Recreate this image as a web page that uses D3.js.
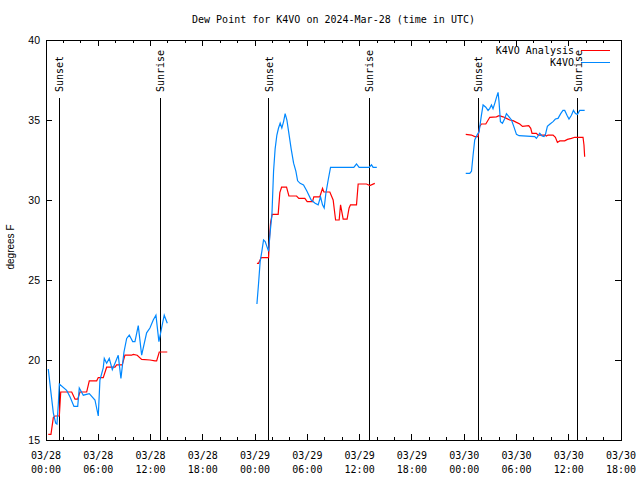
<!DOCTYPE html>
<html><head><meta charset="utf-8">
<script src="https://cdn.jsdelivr.net/npm/d3@7"></script>
<style>html,body{margin:0;padding:0;background:#fff;}svg{display:block;}</style>
</head><body>
<svg id="c" width="640" height="480"></svg>
<script>
// hours since 2024-03-28 00:00 UTC; null marks a gap
const obsHours = [0.26,0.54,0.84,1.11,1.26,1.41,1.53,2.37,2.75,3.21,3.64,3.82,4.28,4.97,5.62,6.0,6.19,6.57,6.69,6.96,7.26,7.61,7.92,8.29,8.60,8.95,9.26,9.56,9.95,10.21,10.59,10.98,11.55,11.93,12.31,12.62,12.96,13.27,13.57,13.92,
 null,
 24.21,24.40,24.58,24.78,24.97,25.16,25.35,25.55,25.73,25.93,26.12,26.30,26.50,26.69,26.88,27.07,27.27,27.45,27.65,27.84,28.14,28.42,28.68,28.88,29.17,29.56,29.94,30.44,30.89,31.24,31.51,31.74,31.93,32.12,32.39,32.66,35.33,35.64,35.94,37.09,37.36,37.55,37.97,
 null,
 48.18,48.64,48.84,49.02,49.21,49.48,49.71,49.98,50.17,50.48,50.74,50.94,51.13,51.31,51.51,51.70,51.89,52.0,52.16,52.39,52.66,52.85,53.15,53.43,53.69,54.0,54.30,56.10,56.29,56.48,56.67,56.94,57.16,57.33,57.55,57.82,58.20,58.47,58.77,59.08,59.34,59.54,59.80,60.03,60.31,60.54,60.77,61.0,61.26,61.83];
const obsValues = [19.44,18.1,16.7,16.06,16.0,17.2,18.5,18.1,17.7,17.1,17.1,18.25,17.8,17.9,17.5,16.5,18.75,19.5,20.1,19.8,20.1,19.4,19.8,20.3,18.85,20.5,21.35,21.56,21.15,21.15,22.15,20.3,21.7,22.0,22.5,22.8,21.15,22.0,22.8,22.3,
 null,
 23.5,24.8,26.15,26.8,27.5,27.4,27.1,26.8,28.0,29.05,31.8,33.2,34.06,34.5,34.8,34.5,34.9,35.4,35.0,34.3,33.2,32.3,31.8,31.2,31.04,30.94,30.56,30.0,29.8,29.7,30.2,29.7,29.5,30.4,31.25,32.04,32.04,32.25,32.04,32.04,32.2,32.04,32.04,
 null,
 31.67,31.67,31.8,32.8,33.75,34.06,34.27,35.3,35.94,35.8,35.6,35.73,35.94,35.7,36.04,36.4,36.73,36.15,34.9,34.8,35.1,35.4,35.2,35.0,34.6,34.1,34.02,33.96,33.85,34.0,34.17,34.0,33.96,34.1,34.6,34.73,34.9,35.06,35.1,35.4,35.6,35.6,35.3,35.06,35.3,35.6,35.4,35.35,35.6,35.6];

const anaHours = [0.26,0.57,0.84,1.03,1.53,1.69,2.95,3.33,3.64,3.90,4.67,4.97,5.82,6.0,6.57,6.96,7.92,8.11,8.75,9.06,9.83,10.01,10.47,10.98,11.93,12.50,12.70,13.0,13.92,
 null,
 24.21,24.40,24.70,25.55,25.66,25.78,25.96,26.65,26.84,27.04,27.61,27.88,28.76,29.02,29.71,29.98,30.59,30.74,31.43,31.74,31.89,32.58,32.96,33.24,33.65,33.81,34.11,34.56,34.79,34.95,35.64,35.83,36.79,37.17,37.74,
 null,
 48.18,48.84,49.21,49.59,49.78,49.98,50.48,50.94,51.70,52.0,52.46,52.85,53.23,53.61,54.0,54.38,54.69,55.41,55.64,55.79,56.29,56.48,57.24,57.43,57.62,58.20,58.47,58.70,58.97,59.54,59.85,60.31,60.69,61.64,61.75,61.83];
const anaValues = [15.35,15.35,16.4,16.5,16.5,18.0,18.0,17.55,17.55,18.0,18.0,18.7,18.7,18.9,18.9,19.55,19.55,19.7,19.7,20.3,20.3,20.35,20.3,20.04,20.0,19.94,19.94,20.5,20.5,
 null,
 26.04,26.04,26.4,26.4,27.7,28.6,29.1,29.1,30.46,30.8,30.8,30.25,30.25,30.1,30.1,29.9,29.9,30.2,30.2,30.73,30.5,30.5,30.0,28.75,28.75,29.7,28.8,28.8,29.5,29.7,29.7,31.0,31.0,30.9,31.04,
 null,
 34.1,34.06,33.96,33.96,34.6,34.75,34.75,35.17,35.2,35.27,35.2,35.1,35.0,34.96,34.85,34.75,34.6,34.65,34.48,34.17,34.17,34.06,34.06,34.0,34.06,34.06,33.92,33.6,33.69,33.7,33.79,33.85,33.92,33.92,33.44,32.7];

const sunEvents = ["Sunset","Sunrise","Sunset","Sunrise","Sunset","Sunrise"];
const sunHours = [1.53,13.11,25.55,37.09,49.59,61.06];

const xTickHours = [0,6,12,18,24,30,36,42,48,54,60,66];
const xTickDates = ["03/28","03/28","03/28","03/28","03/29","03/29","03/29","03/29","03/30","03/30","03/30","03/30"];
const xTickTimes = ["00:00","06:00","12:00","18:00","00:00","06:00","12:00","18:00","00:00","06:00","12:00","18:00"];
const yTicks = [15,20,25,30,35,40];
const seriesNames = ["K4VO Analysis","K4VO"];
const seriesColors = ["#ff0000","#0088ff"];

const L=46, R=621, T=40, B=440;
const mono = "'DejaVu Sans Mono', monospace";
const sans = "'Liberation Sans', Arial, sans-serif";
const svg = d3.select("#c");
const x = d3.scaleLinear().domain([0,66]).range([L,R]);
const y = d3.scaleLinear().domain([15,40]).range([B,T]);

// title
svg.append("text").attr("x",(L+R)/2).attr("y",23).attr("text-anchor","middle")
  .attr("font-family",mono).attr("font-size",10).text("Dew Point for K4VO on 2024-Mar-28 (time in UTC)");

// y label
svg.append("text").attr("transform","translate(14,247) rotate(-90)").attr("text-anchor","middle")
  .attr("font-family",sans).attr("font-size",10).text("degrees F");

const g = svg.append("g").attr("shape-rendering","crispEdges");
// ticks
const minor = d3.range(0,67,2);
minor.forEach(h=>{
  const len = (h%6===0)?6:3;
  g.append("line").attr("x1",x(h)).attr("x2",x(h)).attr("y1",B).attr("y2",B-len).attr("stroke","#000");
  g.append("line").attr("x1",x(h)).attr("x2",x(h)).attr("y1",T).attr("y2",T+len).attr("stroke","#000");
});
yTicks.forEach(v=>{
  g.append("line").attr("x1",L).attr("x2",L+6).attr("y1",y(v)).attr("y2",y(v)).attr("stroke","#000");
  g.append("line").attr("x1",R).attr("x2",R-6).attr("y1",y(v)).attr("y2",y(v)).attr("stroke","#000");
  svg.append("text").attr("x",L-6).attr("y",y(v)+4).attr("text-anchor","end")
    .attr("font-family",sans).attr("font-size",10.5).text(v);
});
xTickHours.forEach((h,i)=>{
  const t = svg.append("text").attr("x",x(h)).attr("text-anchor","middle").attr("font-family",mono).attr("font-size",10);
  t.append("tspan").attr("x",x(h)).attr("y",459).text(xTickDates[i]);
  t.append("tspan").attr("x",x(h)).attr("y",473).text(xTickTimes[i]);
});

// sun lines
sunHours.forEach((h,i)=>{
  g.append("line").attr("x1",x(h)).attr("x2",x(h)).attr("y1",98).attr("y2",B).attr("stroke","#000");
  svg.append("text").attr("transform",`translate(${x(h)+4},92) rotate(-90)`)
    .attr("font-family",mono).attr("font-size",10).text(sunEvents[i]);
});

// series
const line = d3.line().defined(d=>d[0]!==null && d[1]!==null).x(d=>x(d[0])).y(d=>y(d[1]));
const ana = anaHours.map((h,i)=>[h,anaValues[i]]);
const obs = obsHours.map((h,i)=>[h,obsValues[i]]);
svg.append("path").attr("d",line(ana)).attr("fill","none").attr("stroke",seriesColors[0]).attr("stroke-width",1.2);
svg.append("path").attr("d",line(obs)).attr("fill","none").attr("stroke",seriesColors[1]).attr("stroke-width",1.2);

// frame
g.append("rect").attr("x",L).attr("y",T).attr("width",R-L).attr("height",B-T).attr("fill","none").attr("stroke","#000");

// legend
seriesNames.forEach((n,i)=>{
  const yy = 50 + i*12.5;
  svg.append("text").attr("x",574).attr("y",yy+3.5).attr("text-anchor","end")
    .attr("font-family",mono).attr("font-size",10).text(n);
  g.append("line").attr("x1",581).attr("x2",610).attr("y1",yy).attr("y2",yy).attr("stroke",seriesColors[i]);
});
</script>
</body></html>
